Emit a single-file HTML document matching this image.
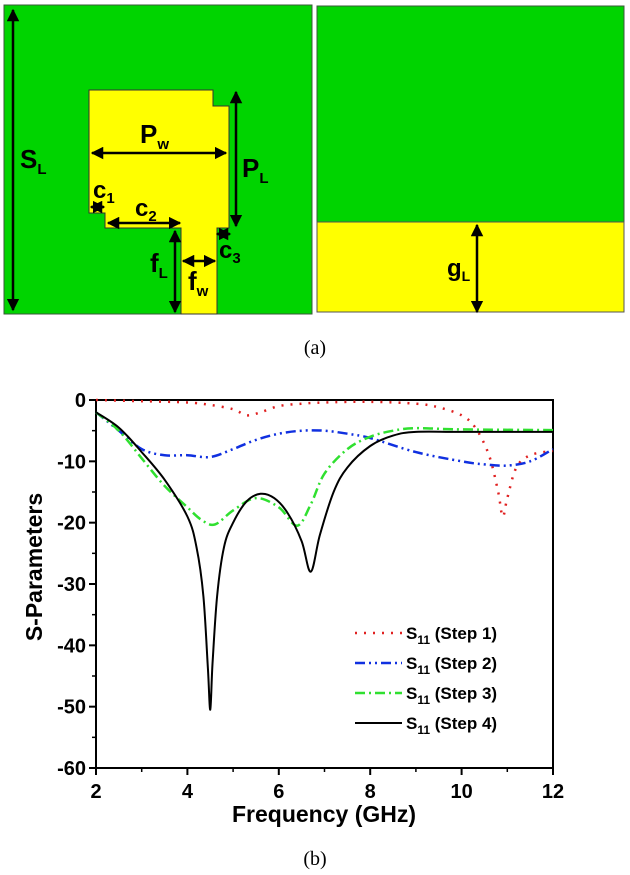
<!DOCTYPE html>
<html><head><meta charset="utf-8"><style>
body{margin:0;background:#fff;width:630px;height:875px;overflow:hidden}
svg{display:block}
text{font-family:"Liberation Sans",sans-serif}
</style></head><body>
<svg width="630" height="875" viewBox="0 0 630 875">
<defs>
<marker id="ah" viewBox="0 0 10 10" refX="9" refY="5" markerWidth="5" markerHeight="5" orient="auto-start-reverse"><path d="M0,0 L10,5 L0,10 z" fill="#000"/></marker>
</defs>
<g>
<rect x="4" y="5" width="308" height="309" fill="#00d400" stroke="#3a5a3a" stroke-width="1"/>
<path d="M89,90 L213,90 L213,106 L229,106 L229,228 L217,228 L217,314 L181,314 L181,228 L105,228 L105,213 L89,213 Z" fill="#ffff00" stroke="#333" stroke-width="1"/>
<line x1="13" y1="10" x2="13" y2="310" stroke="#000" stroke-width="2.5" marker-start="url(#ah)" marker-end="url(#ah)"/>
<text x="20" y="168" font-size="26" font-weight="bold">S<tspan font-size="15" dy="6">L</tspan></text>
<line x1="92" y1="153" x2="226" y2="153" stroke="#000" stroke-width="2.5" marker-start="url(#ah)" marker-end="url(#ah)"/>
<text x="140" y="143" font-size="26" font-weight="bold">P<tspan font-size="15" dy="6">w</tspan></text>
<line x1="236" y1="92" x2="236" y2="226" stroke="#000" stroke-width="2.5" marker-start="url(#ah)" marker-end="url(#ah)"/>
<text x="242" y="177" font-size="26" font-weight="bold">P<tspan font-size="15" dy="6">L</tspan></text>
<line x1="91" y1="207" x2="104" y2="207" stroke="#000" stroke-width="2.5" marker-start="url(#ah)" marker-end="url(#ah)"/>
<text x="93" y="198" font-size="24" font-weight="bold">c<tspan font-size="15" dy="5">1</tspan></text>
<line x1="108" y1="223" x2="180" y2="223" stroke="#000" stroke-width="2.5" marker-start="url(#ah)" marker-end="url(#ah)"/>
<text x="135" y="216" font-size="24" font-weight="bold">c<tspan font-size="15" dy="5">2</tspan></text>
<line x1="175" y1="231" x2="175" y2="312" stroke="#000" stroke-width="2.5" marker-start="url(#ah)" marker-end="url(#ah)"/>
<text x="150" y="272" font-size="26" font-weight="bold">f<tspan font-size="15" dy="6">L</tspan></text>
<line x1="183" y1="261" x2="215" y2="261" stroke="#000" stroke-width="2.5" marker-start="url(#ah)" marker-end="url(#ah)"/>
<text x="188" y="290" font-size="26" font-weight="bold">f<tspan font-size="15" dy="6">w</tspan></text>
<line x1="217" y1="234" x2="230" y2="234" stroke="#000" stroke-width="2.5" marker-start="url(#ah)" marker-end="url(#ah)"/>
<text x="219" y="258" font-size="24" font-weight="bold">c<tspan font-size="15" dy="5">3</tspan></text>
</g>
<g>
<rect x="317" y="6" width="307" height="216" fill="#00d400" stroke="#3a5a3a" stroke-width="1"/>
<rect x="317" y="222" width="307" height="90" fill="#ffff00" stroke="#555" stroke-width="1"/>
<line x1="477" y1="225" x2="477" y2="312" stroke="#000" stroke-width="2.5" marker-start="url(#ah)" marker-end="url(#ah)"/>
<text x="447" y="276" font-size="24" font-weight="bold">g<tspan font-size="14" dy="5">L</tspan></text>
</g>
<text x="315" y="354" font-size="20" text-anchor="middle" style="font-family:'Liberation Serif',serif">(a)</text>
<g id="chart"></g>
<text x="315" y="865" font-size="20" text-anchor="middle" style="font-family:'Liberation Serif',serif">(b)</text>
</svg>
<script>
const xTicks=[2,4,6,8,10,12];
const yTicks=[0,-10,-20,-30,-40,-50,-60];
const seriesNames=["Step 1","Step 2","Step 3","Step 4"];
const f1=[2,3,4,4.5,5,5.3,5.6,6,6.5,7,8,9,9.5,10,10.3,10.6,10.8,10.9,11,11.2,11.5,12];
const s1=[0,-0.2,-0.4,-0.8,-1.5,-2.5,-2,-1,-0.6,-0.4,-0.3,-0.6,-1.2,-2.5,-4.5,-9,-15,-19,-16,-11,-9,-8.3];
const f2=[2,2.5,3,3.5,4,4.5,5,5.5,6,6.5,7,7.5,8,9,10,10.5,11,11.5,12];
const s2=[-2,-5,-8,-9,-9,-9.3,-8,-6.5,-5.5,-5,-5,-5.5,-6.2,-8.5,-10,-10.5,-10.7,-10,-8];
const f3=[2,2.5,3,3.5,4,4.3,4.6,5,5.5,6,6.4,6.7,7,7.5,8,8.5,9,10,12];
const s3=[-2,-5,-9.5,-14,-17.5,-19.5,-20.3,-18,-16,-17.5,-20.5,-17,-12,-8,-6,-5,-4.6,-4.8,-4.9];
const f4=[2,2.5,3,3.5,4,4.2,4.35,4.45,4.5,4.55,4.65,4.8,5,5.3,5.6,5.9,6.2,6.5,6.7,6.9,7.2,7.5,8,8.5,9,10,12];
const s4=[-2,-4.5,-8.5,-13,-19,-24,-32,-44,-50.5,-43,-32,-24,-20,-16.5,-15.3,-16,-18.5,-23,-28,-22,-15,-11,-7.5,-5.8,-5.2,-5.2,-5.2];
const X=f=>96+(f-2)*45.7, Y=v=>400-v*(368/60);
const NS="http://www.w3.org/2000/svg", g=document.getElementById('chart');
function mk(t,a,txt){const e=document.createElementNS(NS,t);for(const k in a)e.setAttribute(k,a[k]);if(txt!=null)e.textContent=txt;g.appendChild(e);return e;}
function smooth(pts){let d='M'+pts[0][0].toFixed(1)+','+pts[0][1].toFixed(1);
for(let i=0;i<pts.length-1;i++){const p0=pts[i-1]||pts[i],p1=pts[i],p2=pts[i+1],p3=pts[i+2]||p2;
const c1=[p1[0]+(p2[0]-p0[0])/6,p1[1]+(p2[1]-p0[1])/6],c2=[p2[0]-(p3[0]-p1[0])/6,p2[1]-(p3[1]-p1[1])/6];
d+=' C'+c1.map(v=>v.toFixed(1)).join(',')+' '+c2.map(v=>v.toFixed(1)).join(',')+' '+p2[0].toFixed(1)+','+p2[1].toFixed(1);}
return d;}
const frame=mk('rect',{x:96,y:400,width:457,height:368,fill:'none',stroke:'#000','stroke-width':2});


xTicks.forEach(t=>{const l=mk('line',{x1:X(t),x2:X(t),y1:768,y2:775,stroke:'#000','stroke-width':2});


if(t<12){const m=mk('line',{x1:X(t+1),x2:X(t+1),y1:768,y2:772,stroke:'#000','stroke-width':1.5});

}
const tx=mk('text',{x:X(t),y:798,'font-size':20,'font-weight':'bold','text-anchor':'middle'},String(t));

});
yTicks.forEach(t=>{const l=mk('line',{x1:89,x2:96,y1:Y(t),y2:Y(t),stroke:'#000','stroke-width':2});


if(t>-60){const m=mk('line',{x1:92,x2:96,y1:Y(t-5),y2:Y(t-5),stroke:'#000','stroke-width':1.5});

}
const tx=mk('text',{x:86,y:Y(t)+7,'font-size':20,'font-weight':'bold','text-anchor':'end'},String(t));

});
const xt=mk('text',{x:324,y:822,'font-size':23,'font-weight':'bold','text-anchor':'middle'},'Frequency (GHz)');


const yt=mk('text',{x:0,y:0,'font-size':23,'font-weight':'bold','text-anchor':'middle',transform:'translate(42,567) rotate(-90)'},'S-Parameters');


const styles=[{c:'#e02020',d:'2 7',w:2.5},{c:'#1030e0',d:'10 4 2 4 2 4',w:2.5},{c:'#30e030',d:'10 4 2 4',w:2.5},{c:'#000',d:'',w:2}];
[[f1,s1],[f2,s2],[f3,s3],[f4,s4]].forEach((p,i)=>{
const pts=p[0].map((f,j)=>[X(f),Y(p[1][j])]);
const path=mk('path',{d:smooth(pts),fill:'none',stroke:styles[i].c,'stroke-width':styles[i].w,'stroke-dasharray':styles[i].d,'stroke-linejoin':'round'});


const ly=633+i*30;
const ll=mk('line',{x1:355,x2:402,y1:ly,y2:ly,stroke:styles[i].c,'stroke-width':styles[i].w,'stroke-dasharray':styles[i].d});


const lt=mk('text',{x:406,y:ly+6,'font-size':17,'font-weight':'bold'});
lt.innerHTML='S<tspan font-size="12" dy="5">11</tspan><tspan dy="-5"> ('+seriesNames[i]+')</tspan>';


});
</script>
</body></html>
